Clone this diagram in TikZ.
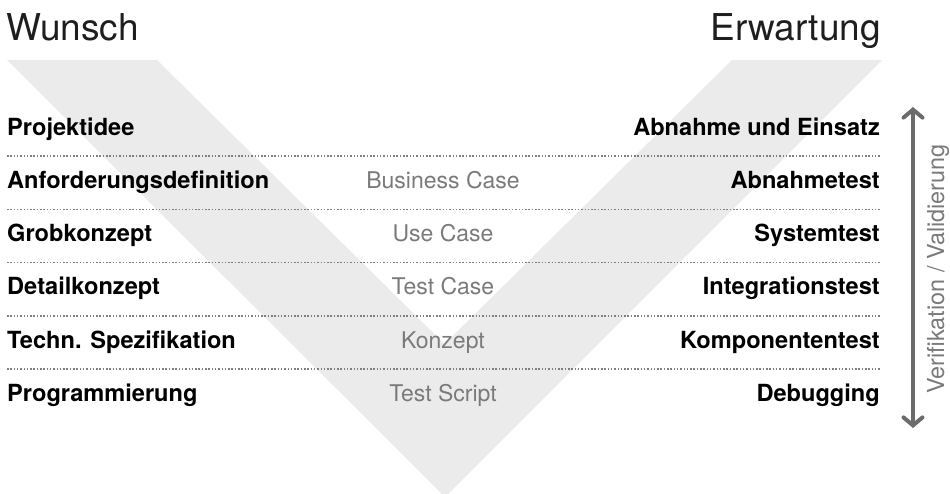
\documentclass[tikz,border=0pt]{standalone}
\usepackage{fontspec}
\setmainfont{TeX Gyre Heros}
\usetikzlibrary{arrows.meta}
\definecolor{vgray}{HTML}{EBEBEB}
\definecolor{midgray}{HTML}{7A7A7A}
\definecolor{dotgray}{HTML}{7E7E7E}
\definecolor{arrgray}{HTML}{6B6B6B}
\definecolor{titlecol}{HTML}{1E1E1E}
\begin{document}
\begin{tikzpicture}[x=1pt,y=-1pt,
  lefttxt/.style={anchor=base west,inner sep=0pt,font=\fontsize{23.6}{23.6}\selectfont\bfseries,text=black},
  righttxt/.style={anchor=base east,inner sep=0pt,font=\fontsize{23.6}{23.6}\selectfont\bfseries,text=black},
  midtxt/.style={anchor=base,inner sep=0pt,font=\fontsize{23}{23}\selectfont,text=midgray},
  titletxt/.style={inner sep=0pt,font=\fontsize{37}{37}\selectfont,text=titlecol},
  dotline/.style={draw=dotgray,line width=1.6pt,dash pattern=on 1.5pt off 1.8pt},
  vvarrow/.style={draw=arrgray,line width=4pt,{Straight Barb[length=8pt,width=19pt,line cap=round]}-{Straight Barb[length=8pt,width=19pt,line cap=round]}}
]
\useasboundingbox (0,0) rectangle (950,493);
\begin{scope}
\clip (0,0) rectangle (950,493);
\fill[vgray] (7,60) -- (157,60) -- (444.5,344) -- (732,60) -- (882,60) -- (445,497) -- cycle;
\end{scope}

% titles
\node[titletxt,anchor=base west] (wunsch) at (6,40) {Wunsch};
\node[titletxt,anchor=base east] (erwartung) at (881,40) {Erwartung};

% dotted separators
\foreach \i/\y in {1/156,2/209.3,3/262.6,4/315.9,5/369.2}{
  \coordinate (dl\i) at (7,\y);
  \coordinate (dr\i) at (880,\y);
  \draw[dotline] (dl\i) -- (dr\i);
}

% left column
\node[lefttxt] (l0) at (7,135) {Projektidee};
\node[lefttxt] (l1) at (7,188.3) {Anforderungsdefinition};
\node[lefttxt] (l2) at (7,241.6) {Grobkonzept};
\node[lefttxt] (l3) at (7,294.9) {Detailkonzept};
\node[lefttxt] (l4) at (7,348.2) {Techn. Spezifikation};
\node[lefttxt] (l5) at (7,401.5) {Programmierung};

% middle column
\node[midtxt] (m1) at (443,188.3) {Business Case};
\node[midtxt] (m2) at (443,241.6) {Use Case};
\node[midtxt] (m3) at (443,294.9) {Test Case};
\node[midtxt] (m4) at (443,348.2) {Konzept};
\node[midtxt] (m5) at (443,401.5) {Test Script};

% right column
\node[righttxt] (r0) at (880,135) {Abnahme und Einsatz};
\node[righttxt] (r1) at (880,188.3) {Abnahmetest};
\node[righttxt] (r2) at (880,241.6) {Systemtest};
\node[righttxt] (r3) at (880,294.9) {Integrationstest};
\node[righttxt] (r4) at (880,348.2) {Komponententest};
\node[righttxt] (r5) at (880,401.5) {Debugging};

% arrow
\coordinate (atop) at (913,107);
\coordinate (abot) at (913,428);
\draw[vvarrow] (abot) -- (atop);

\node[inner sep=0pt,rotate=90,font=\fontsize{23.4}{23.4}\selectfont,text=midgray] (vv) at (938,269) {Verifikation / Validierung};
\end{tikzpicture}
\end{document}
